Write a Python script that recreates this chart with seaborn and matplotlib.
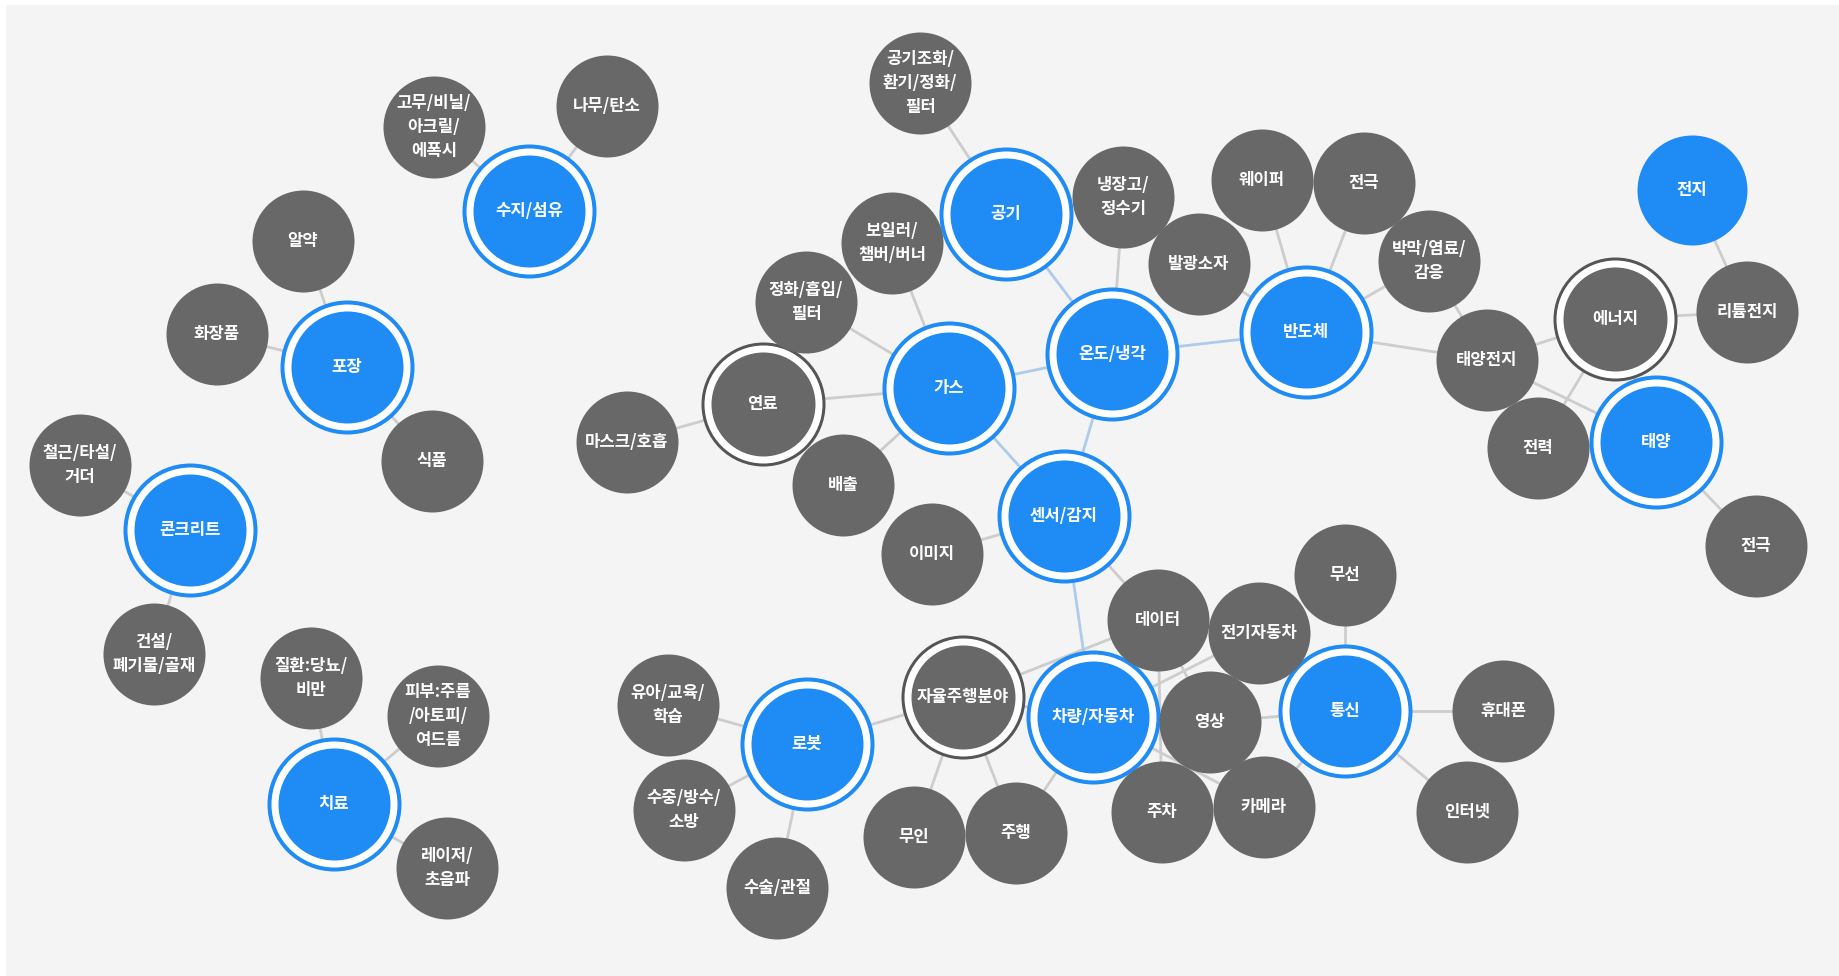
import numpy as np
import pandas as pd
import matplotlib
matplotlib.use("Agg")
import matplotlib.pyplot as plt
import seaborn as sns


# 노드: 키, 표시 텍스트, 위치(px), 종류
keys = ["고무", "나무", "수지", "알약", "화장품", "포장", "식품", "철근", "콘크리트", "건설",
        "질환", "피부", "치료", "레이저", "공기조화", "공기", "보일러", "정화", "냉장고", "발광",
        "웨이퍼", "전극1", "박막", "반도체", "온도", "가스", "연료", "마스크", "배출", "이미지",
        "센서", "태양전지", "에너지", "전지", "리튬", "전력", "태양", "전극2", "무선", "데이터",
        "전기차", "통신", "휴대폰", "인터넷", "영상", "주차", "카메라", "차량", "자율", "주행",
        "무인", "로봇", "유아", "수중", "수술"]
labels = ["고무/비닐/\n아크릴/\n에폭시", "나무/탄소", "수지/섬유", "알약", "화장품", "포장", "식품",
          "철근/타설/\n거더", "콘크리트", "건설/\n폐기물/골재", "질환:당뇨/\n비만", "피부:주름\n/아토피/\n여드름",
          "치료", "레이저/\n초음파", "공기조화/\n환기/정화/\n필터", "공기", "보일러/\n챔버/버너",
          "정화/흡입/\n필터", "냉장고/\n정수기", "발광소자", "웨이퍼", "전극", "박막/염료/\n감응", "반도체",
          "온도/냉각", "가스", "연료", "마스크/호흡", "배출", "이미지", "센서/감지", "태양전지", "에너지",
          "전지", "리튬전지", "전력", "태양", "전극", "무선", "데이터", "전기자동차", "통신", "휴대폰",
          "인터넷", "영상", "주차", "카메라", "차량/자동차", "자율주행분야", "주행", "무인", "로봇",
          "유아/교육/\n학습", "수중/방수/\n소방", "수술/관절"]
xs = [434, 607, 529, 303, 217, 347, 432, 80, 190, 154,
      311, 438, 334, 447, 920, 1006, 892, 806, 1123, 1199,
      1262, 1364, 1429, 1306, 1112, 949, 763, 627, 843, 932,
      1064, 1487, 1615, 1692, 1747, 1538, 1656, 1756, 1345, 1158,
      1259, 1345, 1503, 1467, 1210, 1162, 1264, 1093, 963, 1016,
      914, 807, 668, 684, 777]
ys = [127, 106, 211, 241, 334, 367, 461, 465, 530, 654,
      678, 716, 804, 868, 83, 214, 243, 302, 197, 264,
      180, 183, 261, 332, 354, 388, 404, 442, 485, 554,
      516, 360, 319, 190, 312, 448, 442, 546, 575, 620,
      633, 711, 711, 812, 722, 812, 807, 717, 697, 833,
      837, 744, 705, 810, 888]
kinds = ["leaf", "leaf", "hub", "leaf", "leaf", "hub", "leaf", "leaf", "hub", "leaf",
         "leaf", "leaf", "hub", "leaf", "leaf", "hub", "leaf", "leaf", "leaf", "leaf",
         "leaf", "leaf", "leaf", "hub", "hub", "hub", "dark", "leaf", "leaf", "leaf",
         "hub", "leaf", "dark", "solo", "leaf", "leaf", "hub", "leaf", "leaf", "leaf",
         "leaf", "hub", "leaf", "leaf", "leaf", "leaf", "leaf", "hub", "dark", "leaf",
         "leaf", "hub", "leaf", "leaf", "leaf"]

edges = [("수지", "고무"), ("수지", "나무"),
         ("포장", "알약"), ("포장", "화장품"), ("포장", "식품"),
         ("콘크리트", "철근"), ("콘크리트", "건설"),
         ("치료", "질환"), ("치료", "피부"), ("치료", "레이저"),
         ("공기", "공기조화"), ("공기", "온도"),
         ("가스", "보일러"), ("가스", "정화"), ("가스", "연료"), ("가스", "배출"),
         ("가스", "온도"), ("가스", "센서"), ("연료", "마스크"),
         ("온도", "냉장고"), ("온도", "반도체"), ("온도", "센서"),
         ("반도체", "웨이퍼"), ("반도체", "전극1"), ("반도체", "박막"), ("반도체", "발광"),
         ("반도체", "태양전지"), ("박막", "태양전지"),
         ("태양전지", "에너지"), ("태양전지", "태양"), ("에너지", "전력"), ("에너지", "리튬"),
         ("에너지", "태양"), ("전지", "리튬"), ("태양", "전극2"), ("태양", "전력"),
         ("센서", "이미지"), ("센서", "차량"), ("센서", "데이터"),
         ("차량", "자율"), ("차량", "데이터"), ("차량", "전기차"), ("차량", "영상"),
         ("차량", "주차"), ("차량", "카메라"), ("차량", "주행"),
         ("자율", "데이터"), ("자율", "로봇"), ("자율", "무인"), ("자율", "주행"),
         ("데이터", "주차"), ("데이터", "영상"), ("전기차", "영상"), ("영상", "카메라"),
         ("통신", "무선"), ("통신", "영상"), ("통신", "휴대폰"), ("통신", "인터넷"),
         ("통신", "카메라"), ("통신", "전기차"),
         ("로봇", "유아"), ("로봇", "수중"), ("로봇", "수술")]

nodes = pd.DataFrame({"key": keys, "label": labels, "x": xs, "y": ys, "kind": kinds})
pos = nodes.set_index("key")

# 엣지 테이블 (허브끼리 연결된 선은 연한 파랑)
rows = []
for i, (a, b) in enumerate(edges):
    blue = pos.loc[a, "kind"] in ("hub", "solo") and pos.loc[b, "kind"] in ("hub", "solo")
    for k in (a, b):
        rows.append({"eid": i, "x": pos.loc[k, "x"], "y": pos.loc[k, "y"],
                     "tone": "blue" if blue else "grey"})
edge_df = pd.DataFrame(rows)

BLUE = "#1f8cf6"
GREY = "#686868"
DARK = "#555555"
BG = "#f4f4f4"


def size(r):
    # 반지름(px) -> scatter 면적(pt^2), dpi 100 기준
    return (2 * r * 0.72) ** 2


sns.set_theme(style="white")
plt.rcParams["font.family"] = ["Noto Sans CJK KR", "DejaVu Sans"]

fig = plt.figure(figsize=(18.4, 9.76), dpi=100, facecolor="white")
ax = fig.add_axes([6 / 1840, 0, 1834 / 1840, 971 / 976])
ax.set_facecolor(BG)

sns.lineplot(data=edge_df, x="x", y="y", units="eid", hue="tone", estimator=None, sort=False,
             palette={"grey": "#cdcdcd", "blue": "#aecbec"}, linewidth=2, legend=False, ax=ax, zorder=1)

hub = nodes[nodes.kind == "hub"]
dark = nodes[nodes.kind == "dark"]
leaf = nodes[nodes.kind == "leaf"]
solo = nodes[nodes.kind == "solo"]

layers = [(hub, 67, BLUE), (hub, 63, "white"), (hub, 56, BLUE),
          (dark, 62, DARK), (dark, 59, "white"), (dark, 52, GREY),
          (leaf, 51, GREY), (solo, 55, BLUE)]
for df, r, c in layers:
    sns.scatterplot(data=df, x="x", y="y", s=size(r), color=c, linewidth=0, ax=ax, zorder=2)

for _, row in nodes.iterrows():
    ax.text(row.x, row.y, row.label, ha="center", va="center", color="white",
            fontsize=12, fontweight="bold", linespacing=1.45, zorder=3)

ax.set_xlim(6, 1840)
ax.set_ylim(976, 5)
ax.set_xlabel("")
ax.set_ylabel("")
ax.set_xticks([])
ax.set_yticks([])
for s in ax.spines.values():
    s.set_visible(False)

fig.savefig("out.png", dpi=100, facecolor="white")
